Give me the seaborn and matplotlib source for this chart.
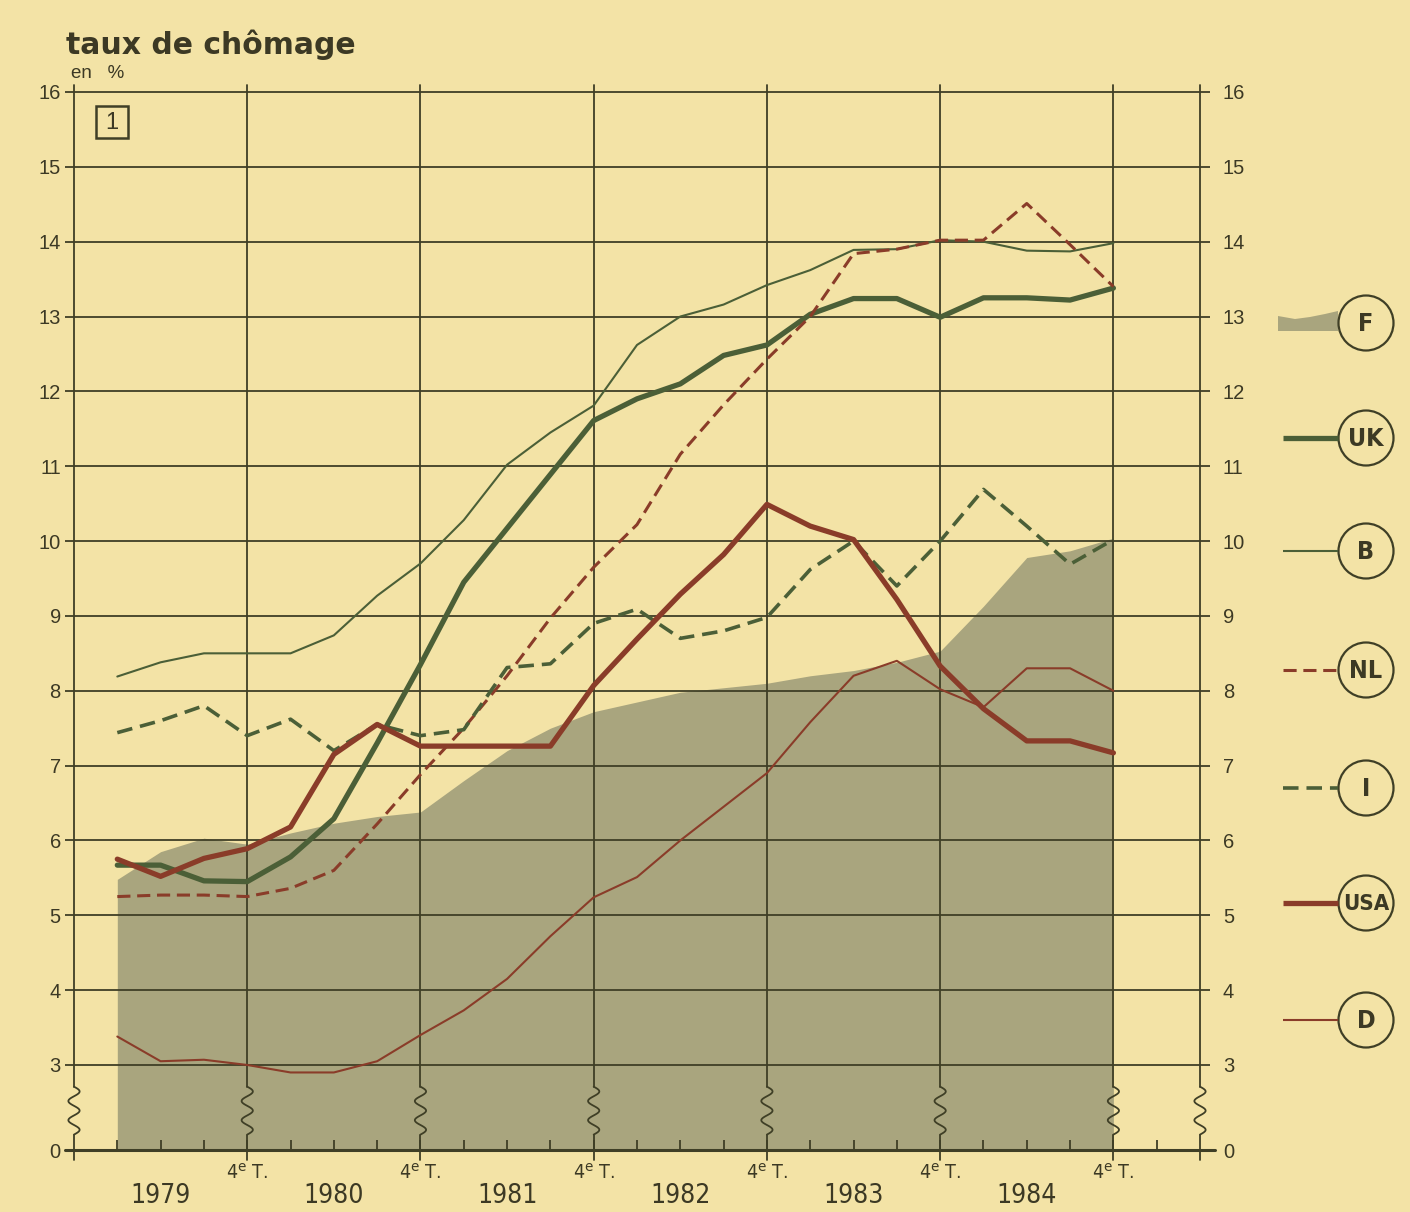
import numpy as np
import pandas as pd
import matplotlib
matplotlib.use("Agg")
import matplotlib.pyplot as plt
import seaborn as sns
from matplotlib import font_manager
from matplotlib.patches import Circle, Rectangle, Polygon

# quarterly unemployment rates, 1979 T1 ... 1984 T4
quarters = list(range(24))
year_labels = ["1979", "1980", "1981", "1982", "1983", "1984"]
F = [5.48, 5.85, 6.03, 5.95, 6.10, 6.23, 6.32, 6.38, 6.80, 7.20, 7.50, 7.72,
     7.85, 7.98, 8.04, 8.10, 8.20, 8.27, 8.38, 8.53, 9.13, 9.78, 9.87, 10.04]
UK = [5.67, 5.67, 5.46, 5.45, 5.78, 6.29, 7.30, 8.35, 9.45, 10.17, 10.89, 11.61,
      11.90, 12.10, 12.48, 12.62, 13.03, 13.24, 13.24, 12.99, 13.25, 13.25, 13.22, 13.38]
B = [8.19, 8.38, 8.50, 8.50, 8.50, 8.74, 9.27, 9.70, 10.28, 11.02, 11.45, 11.81,
     12.62, 13.00, 13.16, 13.42, 13.62, 13.89, 13.90, 14.02, 14.00, 13.88, 13.87, 13.98]
NL = [5.25, 5.27, 5.27, 5.25, 5.36, 5.60, 6.22, 6.88, 7.50, 8.20, 8.97, 9.65,
      10.22, 11.16, 11.82, 12.43, 13.00, 13.84, 13.90, 14.02, 14.02, 14.51, 13.96, 13.40]
I = [7.44, 7.60, 7.80, 7.40, 7.62, 7.20, 7.55, 7.40, 7.48, 8.31, 8.36, 8.90,
     9.09, 8.70, 8.80, 8.98, 9.62, 10.00, 9.40, 10.00, 10.69, 10.20, 9.69, 10.02]
USA = [5.75, 5.52, 5.76, 5.89, 6.18, 7.15, 7.55, 7.26, 7.26, 7.26, 7.26, 8.07,
       8.69, 9.29, 9.82, 10.49, 10.20, 10.02, 9.22, 8.33, 7.76, 7.33, 7.33, 7.17]
D = [3.38, 3.05, 3.07, 3.00, 2.90, 2.90, 3.05, 3.40, 3.73, 4.15, 4.72, 5.24,
     5.51, 6.00, 6.45, 6.90, 7.58, 8.20, 8.40, 8.02, 7.78, 8.30, 8.30, 8.00]
y_ticks = list(range(3, 17))

# colours
bg = "#f3e3a6"
area_col = "#a9a57e"
grid_col = "#3f3f26"
green = "#4b5f37"
red = "#8a3c29"
txt = "#3c3924"

sns.set_style("white", {"axes.facecolor": bg, "figure.facecolor": bg})
names = {f.name for f in font_manager.fontManager.ttflist}
narrow = "Liberation Sans Narrow" if "Liberation Sans Narrow" in names else "DejaVu Sans"
plt.rcParams["font.family"] = ["Liberation Sans", "DejaVu Sans"]
plt.rcParams["mathtext.fontset"] = "custom"
plt.rcParams["mathtext.rm"] = narrow

Y0 = 1.864  # where "0" sits (axis is broken between 0 and 3)

fig = plt.figure(figsize=(14.1, 12.12), dpi=100)
ax = fig.add_axes([74 / 1410, 62 / 1212, 1126 / 1410, 1065.5 / 1212])
ax.set_xlim(-1, 25)
ax.set_ylim(Y0, 16.1)
ax.set_axisbelow("line")
for s in ax.spines.values():
    s.set_visible(False)

# France as shaded area
ax.fill_between(quarters, F, Y0, color=area_col, lw=0, zorder=1)

dash = (0, (4.3, 2.2))
series = [
    ("UK", UK, green, 3.8, "-"),
    ("B", B, green, 1.5, "-"),
    ("NL", NL, red, 2.2, dash),
    ("I", I, green, 2.6, dash),
    ("USA", USA, red, 3.8, "-"),
    ("D", D, red, 1.5, "-"),
]
for name, vals, col, lw, ls in series:
    sns.lineplot(x=quarters, y=vals, ax=ax, color=col, lw=lw, linestyle=ls,
                 legend=False, zorder=3, solid_joinstyle="round")
ax.set_xlabel("")
ax.set_ylabel("")
ax.set_xlim(-1, 25)
ax.set_ylim(Y0, 16.1)

# horizontal grid
ax.set_yticks([Y0] + y_ticks)
ax.set_yticklabels(["0"] + [str(v) for v in y_ticks])
ax.yaxis.grid(True, color=grid_col, lw=1.3)
ax.xaxis.grid(False)
ax.tick_params(axis="y", direction="out", left=True, length=6.5, width=1.3,
               color=grid_col, pad=3, labelsize=14.5, labelcolor=txt)
ax2 = ax.twinx()
ax2.set_ylim(ax.get_ylim())
ax2.set_yticks([Y0] + y_ticks)
ax2.set_yticklabels(["0"] + [str(v) for v in y_ticks])
ax2.tick_params(axis="y", direction="out", right=True, length=7.5, width=1.3,
                color=grid_col, pad=9, labelsize=14.5, labelcolor=txt)
for s in ax2.spines.values():
    s.set_visible(False)

# quarter ticks and labels (years sit on minor ticks at mid-year)
ax.xaxis.remove_overlapping_locs = False
ax.set_xticks(range(25))
ax.set_xticklabels(["4$^{\\mathrm{e}}$ T." if q % 4 == 3 and q < 24 else "" for q in range(25)],
                   family=narrow, stretch="condensed", fontsize=14, color=txt)
ax.tick_params(axis="x", which="major", direction="in", bottom=True, length=7,
               width=1.3, color=grid_col, pad=9)
ax.set_xticks([1 + 4 * k for k in range(6)], minor=True)
ax.set_xticklabels(year_labels, minor=True, family=narrow, stretch="condensed",
                   fontsize=19, color=txt)
ax.tick_params(axis="x", which="minor", bottom=True, labelbottom=True, length=0, pad=24)

# vertical year lines with break marks
t = np.linspace(0, 1, 80)
for xv in [-1, 3, 7, 11, 15, 19, 23, 25]:
    ax.plot([xv, xv], [16.1, 2.71], color=grid_col, lw=1.3, zorder=1.6, clip_on=False)
    ax.plot(xv + 0.13 * np.sin(2 * np.pi * 2.5 * t), 2.71 - 0.64 * t,
            color=grid_col, lw=1.3, zorder=1.6, clip_on=False)
    ax.plot([xv, xv], [2.07, Y0 - 0.13], color=grid_col, lw=1.3, zorder=1.6, clip_on=False)
ax.plot([-1.2, 25.35], [Y0, Y0], color=grid_col, lw=2.2, zorder=1.7, clip_on=False)

# overlay for title, box and legend (pixel coordinates)
ov = fig.add_axes([0, 0, 1, 1], zorder=5)
ov.set_xlim(0, 1410)
ov.set_ylim(1212, 0)
ov.axis("off")
ov.patch.set_alpha(0)
ov.text(66, 54, "taux de chômage", fontsize=21.5, fontweight="heavy",
        family="DejaVu Sans", color=txt, va="baseline")
ov.text(71, 73, "en   %", fontsize=13.5, color=txt, va="center")
ov.add_patch(Rectangle((96, 106), 32, 32, fill=False, ec=grid_col, lw=1.8))
ov.text(112, 123, "1", fontsize=17, color=txt, ha="center", va="center")

leg_y = {"F": 323, "UK": 438, "B": 551, "NL": 670, "I": 788, "USA": 903, "D": 1020}
ov.add_patch(Polygon([(1278, 331), (1278, 316), (1295, 319), (1310, 317), (1325, 314),
                      (1338, 311), (1338, 331)], closed=True, color=area_col, lw=0))
for name, vals, col, lw, ls in series:
    y = leg_y[name]
    ov.plot([1283, 1338], [y, y], color=col, lw=lw, linestyle=ls, solid_capstyle="butt")
for name, y in leg_y.items():
    ov.add_patch(Circle((1366, y), 27.5, fill=False, ec=grid_col, lw=1.6))
    ov.text(1366, y + 1, name, family=narrow, stretch="condensed", fontweight="bold",
            fontsize=18 if len(name) < 3 else 16, color=txt, ha="center", va="center")

fig.savefig("out.png", dpi=100, facecolor=bg)
